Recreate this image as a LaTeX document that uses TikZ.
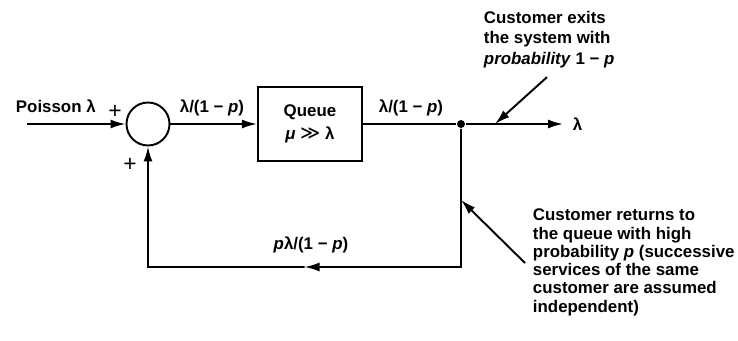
\documentclass[tikz,border=0pt]{standalone}
\usepackage{fontspec}
\setmainfont{Liberation Sans}
\newfontfamily\gtfont{DejaVu Sans}
\usepackage{tikz}
\usetikzlibrary{positioning, arrows.meta, calc}
\newcommand{\rate}{λ/(1 − \textit{p})}
\newcommand{\gtr}{{\gtfont\mdseries\fontsize{11}{11}\selectfont ≫}}

\begin{document}
\begin{tikzpicture}[line width=1.1pt,
  every node/.style={font=\bfseries\fontsize{9.6}{11.4}\selectfont},
  sign/.style={font=\mdseries\fontsize{13}{13}\selectfont, inner sep=0pt},
  flow/.style={-{Latex[length=3mm, width=1.8mm]}}]
  \useasboundingbox (0,0) rectangle (14.76,-6.82);

  % forward path
  \coordinate (in) at (0.54,-2.48);
  \node[draw, circle, minimum size=0.86cm, inner sep=0pt] (sum) at (2.96,-2.48) {};
  \node[draw, minimum width=2.08cm, minimum height=1.48cm, right=1.73cm of sum,
        align=center, font=\bfseries\fontsize{9.6}{13}\selectfont] (queue)
        {Queue\\\textit{μ} \gtr{} λ};
  \node[circle, fill, inner sep=0pt, minimum size=0.16cm] (split) at (9.22,-2.48) {};
  \coordinate (out) at (11.26,-2.48);
  \node[right=0.18cm of out, inner sep=0pt] (lout) {λ};

  \draw[flow] (in) -- (sum);
  \draw[flow] (sum) -- (queue);
  \draw (queue) -- (split);
  \draw[flow] (split) -- (out);

  % feedback path
  \coordinate (br) at (split |- 0,-5.34);
  \coordinate (bl) at (sum |- 0,-5.34);
  \coordinate (bmid) at ($(br)!0.5!(bl)$);
  \draw[flow] (split) -- (br) -- (bmid);
  \draw[flow] (bmid) -- (bl) -- (sum);

  % rates and signs
  \node[anchor=base west, inner sep=0pt] (lin) at (0.30,-2.26) {Poisson λ};
  \node[sign] (pa) at (2.30,-2.24) {+};
  \node[sign] (pb) at (2.60,-3.30) {+};
  \node (r1) at (4.24,-2.16) {\rate};
  \node (r2) at (8.22,-2.16) {\rate};
  \node (r3) at (6.22,-4.90) {\textit{p}\rate};

  % notes
  \node[anchor=north west, align=left, inner sep=0pt,
        font=\bfseries\fontsize{9.6}{11.8}\selectfont] (exitnote) at (9.66,-0.20)
        {Customer exits\\the system with\\\textit{probability} 1 − \textit{p}};
  \coordinate (exittail) at ([xshift=1.28cm, yshift=-0.16cm]exitnote.south west);
  \coordinate (exittip) at (9.90,-2.48);
  \draw[flow] (exittail) -- (exittip);

  \node[anchor=north west, align=left, inner sep=0pt,
        font=\bfseries\fontsize{9.6}{10.4}\selectfont] (retnote) at (10.64,-4.16)
        {Customer returns to\\the queue with high\\probability \textit{p} (successive\\
         services of the same\\customer are assumed\\independent)};
  \coordinate (rettail) at ([xshift=-0.14cm, yshift=-1.1cm]retnote.north west);
  \coordinate (rettip) at (split |- 0,-4.00);
  \draw[flow] (rettail) -- (rettip);
\end{tikzpicture}
\end{document}
